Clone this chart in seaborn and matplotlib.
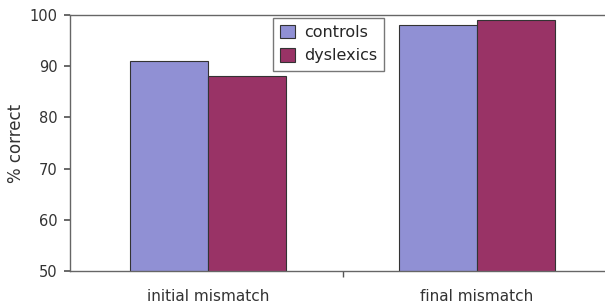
import pandas as pd
import matplotlib.pyplot as plt
import seaborn as sns

# values
conditions = ['initial mismatch', 'final mismatch']
groups = ['controls', 'dyslexics']
controls = [91, 98]
dyslexics = [88, 99]

df = pd.DataFrame({
    'condition': conditions * 2,
    'group': ['controls'] * 2 + ['dyslexics'] * 2,
    'score': controls + dyslexics,
})

sns.set_theme(style="white")
plt.rcParams['font.family'] = ['DejaVu Sans']

fig = plt.figure(figsize=(6.05, 3.06), dpi=100)
ax = fig.add_axes([70 / 605, 1 - 271 / 306, 545 / 605, 256 / 306])

sns.barplot(data=df, x='condition', y='score', hue='group', hue_order=groups,
            palette=['#9090d4', '#993366'], width=0.58, edgecolor='#333333',
            linewidth=0.8, ax=ax, saturation=1)

ax.set_ylim(50, 100)
ax.set_yticks([50, 60, 70, 80, 90, 100])
ax.set_xlim(-0.513, 1.513)
ax.set_xticks([0.5], minor=True)
ax.tick_params(axis='x', which='major', length=0, pad=13, labelsize=11, colors='#333333')
ax.tick_params(axis='x', which='minor', length=4, direction='out', color='#555555', bottom=True)
ax.tick_params(axis='y', length=4, direction='out', left=True, labelsize=10.5,
               colors='#333333', color='#555555', pad=5)
ax.set_xlabel('')
ax.set_ylabel('% correct', fontsize=12, color='#333333')
ax.yaxis.set_label_coords(-(70 - 25) / 545, 0.5)

for side in ['left', 'bottom', 'top']:
    ax.spines[side].set_color('#666666')
    ax.spines[side].set_linewidth(1)
ax.spines['right'].set_visible(False)

leg = ax.legend(loc='upper left', bbox_to_anchor=((273 - 70) / 545, 1 - 3 / 256),
                borderaxespad=0, frameon=True, fancybox=False, fontsize=11.5,
                handlelength=0.9, handleheight=0.9, borderpad=0.45, labelspacing=0.5,
                handletextpad=0.6)
leg.get_frame().set_edgecolor('#555555')
leg.get_frame().set_linewidth(1)

plt.savefig('out.png', dpi=100)
